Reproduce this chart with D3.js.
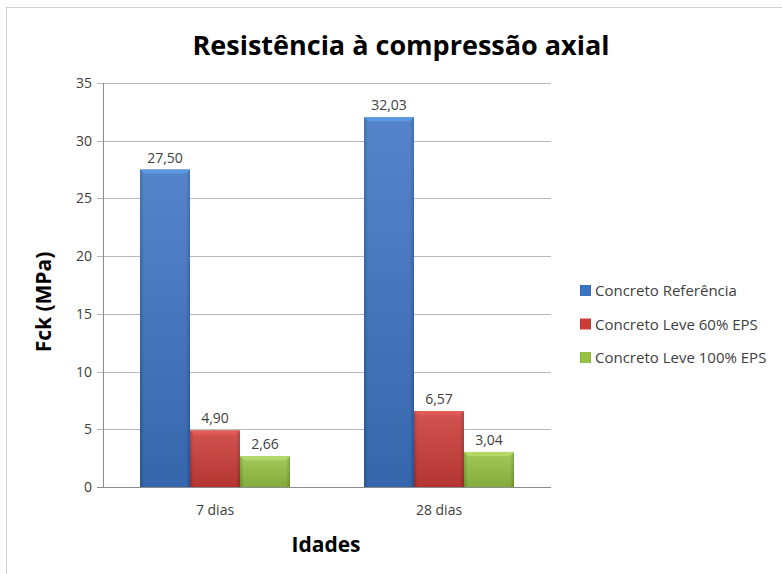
<!doctype html>
<html>
<head>
<meta charset="utf-8">
<script src="https://d3js.org/d3.v7.min.js"></script>
<style>
  body { margin: 0; background: #fff; }
  svg text { font-family: "Open Sans", "Noto Sans", sans-serif; }
  .axis path { display: none; }
</style>
</head>
<body>
<script>
// chart data
var categories = ["7 dias", "28 dias"];
var seriesNames = ["Concreto Referência", "Concreto Leve 60% EPS", "Concreto Leve 100% EPS"];
var refValues = [27.50, 32.03];
var eps60Values = [4.90, 6.57];
var eps100Values = [2.66, 3.04];
var yTicks = [0, 5, 10, 15, 20, 25, 30, 35];

var seriesValues = [refValues, eps60Values, eps100Values];
var colors = [
  {light: "#5b98e0", mid: "#3d74c2", dark: "#2e5ca0"},
  {light: "#e25a57", mid: "#cc3d3a", dark: "#a32f2c"},
  {light: "#b4d868", mid: "#97c244", dark: "#76a032"}
];

var width = 782, height = 574;
var plot = {left: 103, right: 551, top: 83, bottom: 487};

var svg = d3.select("body").append("svg")
  .attr("width", width)
  .attr("height", height);

// outer chart frame
svg.append("rect")
  .attr("x", 6.5).attr("y", 7.5)
  .attr("width", 800).attr("height", 600)
  .attr("fill", "none")
  .attr("stroke", "#d0d0d0");

var x0 = d3.scaleBand()
  .domain(categories)
  .range([plot.left, plot.right])
  .paddingInner(74 / 224)
  .paddingOuter(37 / 224);

var x1 = d3.scaleBand()
  .domain(seriesNames)
  .range([0, x0.bandwidth()]);

var y = d3.scaleLinear()
  .domain([0, 35])
  .range([plot.bottom, plot.top]);

// gradients for the bars
var defs = svg.append("defs");
colors.forEach(function(c, i) {
  var g = defs.append("linearGradient")
    .attr("id", "grad" + i)
    .attr("x1", "0").attr("y1", "0").attr("x2", "1").attr("y2", "0");
  g.append("stop").attr("offset", "0").attr("stop-color", c.dark);
  g.append("stop").attr("offset", "0.08").attr("stop-color", c.mid);
  g.append("stop").attr("offset", "0.92").attr("stop-color", c.mid);
  g.append("stop").attr("offset", "1").attr("stop-color", c.dark);
  var v = defs.append("linearGradient")
    .attr("id", "vgrad" + i)
    .attr("x1", "0").attr("y1", "0").attr("x2", "0").attr("y2", "1");
  v.append("stop").attr("offset", "0").attr("stop-color", "#fff").attr("stop-opacity", 0.12);
  v.append("stop").attr("offset", "1").attr("stop-color", "#000").attr("stop-opacity", 0.12);
});

// gridlines
svg.append("g")
  .selectAll("line")
  .data(yTicks)
  .join("line")
  .attr("x1", plot.left - 6)
  .attr("x2", plot.right)
  .attr("y1", function(d) { return Math.round(y(d)) + 0.5; })
  .attr("y2", function(d) { return Math.round(y(d)) + 0.5; })
  .attr("stroke", function(d) { return d === 0 ? "#8c8c8c" : "#b8b8b8"; })
  .attr("stroke-width", 1);

// y axis line
svg.append("line")
  .attr("x1", plot.left + 0.5).attr("x2", plot.left + 0.5)
  .attr("y1", plot.top).attr("y2", plot.bottom)
  .attr("stroke", "#8c8c8c");

// y tick labels
var yAxis = svg.append("g")
  .attr("class", "axis")
  .attr("transform", "translate(" + (plot.left - 6) + ",0)")
  .call(d3.axisLeft(y).tickValues(yTicks).tickSize(0).tickPadding(5));
yAxis.selectAll("text")
  .attr("font-size", 14)
  .attr("fill", "#404040")
  .attr("font-family", "'Open Sans', sans-serif");

// x tick labels
var xAxis = svg.append("g")
  .attr("class", "axis")
  .attr("transform", "translate(0," + plot.bottom + ")")
  .call(d3.axisBottom(x0).tickSize(0).tickPadding(18));
xAxis.selectAll("text")
  .attr("font-size", 14)
  .attr("fill", "#404040")
  .attr("font-family", "'Open Sans', sans-serif");

// bars
var groups = svg.append("g")
  .selectAll("g")
  .data(categories)
  .join("g")
  .attr("transform", function(d) { return "translate(" + x0(d) + ",0)"; });

var barData = function(cat, ci) {
  return seriesNames.map(function(s, si) {
    return {series: s, si: si, value: seriesValues[si][ci]};
  });
};

var bars = groups.selectAll("g.bar")
  .data(function(d, ci) { return barData(d, ci); })
  .join("g")
  .attr("class", "bar");

bars.append("rect")
  .attr("x", function(d) { return x1(d.series); })
  .attr("y", function(d) { return y(d.value); })
  .attr("width", x1.bandwidth())
  .attr("height", function(d) { return y(0) - y(d.value); })
  .attr("fill", function(d) { return "url(#grad" + d.si + ")"; });

bars.append("rect")
  .attr("x", function(d) { return x1(d.series); })
  .attr("y", function(d) { return y(d.value); })
  .attr("width", x1.bandwidth())
  .attr("height", function(d) { return y(0) - y(d.value); })
  .attr("fill", function(d) { return "url(#vgrad" + d.si + ")"; });

// top bevel
bars.append("path")
  .attr("d", function(d) {
    var bx = x1(d.series), by = y(d.value), w = x1.bandwidth();
    return "M" + bx + "," + by + "L" + (bx + w) + "," + by +
      "L" + (bx + w - 4) + "," + (by + 4) + "L" + (bx + 4) + "," + (by + 4) + "Z";
  })
  .attr("fill", function(d) { return colors[d.si].light; });

// value labels
bars.append("text")
  .attr("x", function(d) { return x1(d.series) + x1.bandwidth() / 2; })
  .attr("y", function(d) { return y(d.value) - 7; })
  .attr("text-anchor", "middle")
  .attr("font-size", 14)
  .attr("fill", "#404040")
  .text(function(d) { return d.value.toFixed(2).replace(".", ","); });

// title
svg.append("text")
  .attr("x", 401).attr("y", 55)
  .attr("text-anchor", "middle")
  .attr("font-size", 27)
  .attr("font-weight", "bold")
  .attr("fill", "#000")
  .text("Resistência à compressão axial");

// axis titles
svg.append("text")
  .attr("transform", "translate(51,302) rotate(-90)")
  .attr("text-anchor", "middle")
  .attr("font-size", 21)
  .attr("font-weight", "bold")
  .attr("fill", "#000")
  .text("Fck (MPa)");

svg.append("text")
  .attr("x", 326).attr("y", 552)
  .attr("text-anchor", "middle")
  .attr("font-size", 21)
  .attr("font-weight", "bold")
  .attr("fill", "#000")
  .text("Idades");

// legend
var legend = svg.append("g")
  .selectAll("g")
  .data(seriesNames)
  .join("g")
  .attr("transform", function(d, i) { return "translate(580," + (290 + i * 33.5) + ")"; });

legend.append("rect")
  .attr("x", 0).attr("y", -5)
  .attr("width", 11).attr("height", 11)
  .attr("fill", function(d, i) { return "url(#grad" + i + ")"; });

legend.append("text")
  .attr("x", 15).attr("y", 6)
  .attr("font-size", 15)
  .attr("fill", "#404040")
  .text(function(d) { return d; });
</script>
</body>
</html>
